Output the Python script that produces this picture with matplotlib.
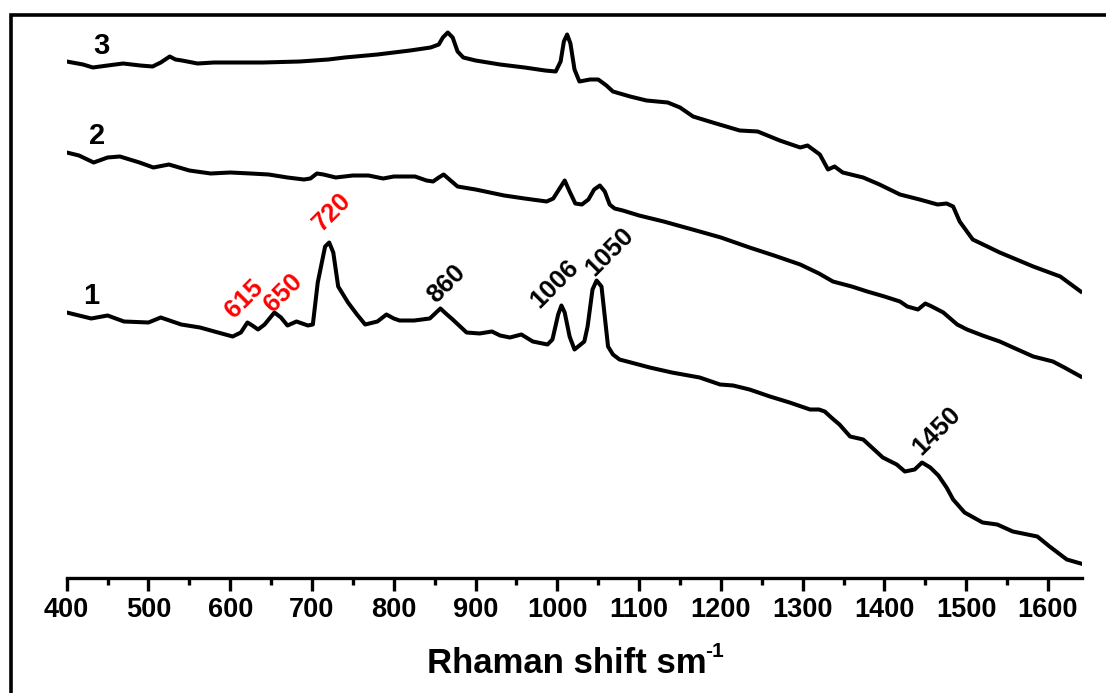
import matplotlib
matplotlib.use("Agg")
import matplotlib.pyplot as plt
from matplotlib.patches import Rectangle
from matplotlib.ticker import MultipleLocator

plt.rcParams['font.family'] = ['Liberation Sans', 'DejaVu Sans']
plt.rcParams['font.weight'] = 'bold'

# Raman shift (cm-1) and intensity (a.u.)
x1 = [400, 415, 430, 450, 470, 500, 515, 540, 563, 585, 603, 613, 621, 627, 634, 642, 654, 662, 670,
      681, 695, 701, 707, 716, 721, 726, 732, 738, 744, 755, 765, 780, 791, 800, 807, 825, 844, 857,
      865, 872, 889, 905, 920, 930, 942, 956, 970, 988, 994, 1001, 1005, 1009, 1015, 1021, 1027, 1033,
      1037, 1043, 1048, 1054, 1058, 1062, 1068, 1076, 1090, 1113, 1140, 1174, 1199, 1215, 1235, 1260,
      1284, 1309, 1320, 1327, 1335, 1345, 1358, 1374, 1398, 1415, 1425, 1437, 1446, 1456, 1466, 1476,
      1484, 1498, 1520, 1538, 1557, 1587, 1602, 1623, 1640]
y1 = [265, 262, 259, 262, 256, 255, 260, 253, 250, 245, 241, 245, 255, 252, 248, 253, 265, 260, 252,
      256, 252, 253, 295, 331, 335, 325, 291, 283, 275, 263, 253, 256, 263, 259, 257, 257, 259, 269,
      263, 258, 245, 244, 246, 242, 240, 243, 236, 233, 238, 263, 272, 265, 241, 228, 232, 236,
      251, 288, 297, 291, 261, 231, 223, 218, 215, 210, 205, 200, 193, 192, 188, 181,
      175, 168, 168, 166, 160, 153, 141, 138, 120, 113, 106, 108, 115, 110, 102, 90,
      78, 65, 55, 53, 46, 41, 31, 18, 14]

x2 = [400, 415, 433, 450, 465, 489, 506, 525, 550, 576, 600, 625, 647, 670, 690, 698, 706, 714, 729,
      750, 769, 787, 800, 826, 840, 848, 855, 861, 868, 878, 900, 935, 960, 987, 995, 1002, 1009, 1015,
      1022, 1030, 1038, 1045, 1052, 1058, 1064, 1070, 1080, 1100, 1130, 1174, 1200, 1235, 1265, 1297,
      1320, 1337, 1360, 1379, 1400, 1419, 1428, 1441, 1450, 1458, 1472, 1489, 1501, 1520, 1541, 1560,
      1582, 1606, 1620, 1640]
y2 = [425, 422, 415, 420, 421, 415, 410, 413, 407, 404, 405, 404, 403, 400, 398, 399, 404, 403, 400,
      402, 402, 399, 401, 401, 397, 396, 400, 403, 398, 391, 388, 382, 379, 376, 379, 388, 397, 386,
      374, 373, 378, 388, 392, 386, 373, 369, 367, 362, 356, 346, 340, 330, 322, 313,
      304, 296, 291, 286, 281, 276, 271, 268, 274, 271, 265, 253, 248, 242, 236, 229,
      221, 216, 210, 201]

x3 = [400, 420, 432, 450, 469, 490, 505, 515, 526, 533, 541, 560, 580, 603, 640, 685, 720, 740, 780,
      820, 845, 855, 860, 866, 872, 878, 885, 900, 930, 960, 985, 998, 1004, 1008, 1012, 1016, 1021,
      1027, 1040, 1050, 1060, 1068, 1089, 1109, 1135, 1150, 1166, 1190, 1223, 1245, 1272, 1297, 1306,
      1321, 1331, 1339, 1349, 1374, 1394, 1419, 1443, 1465, 1476, 1484, 1492, 1508, 1541, 1582, 1615,
      1640]
y3 = [516, 513, 510, 512, 514, 512, 511, 515, 521, 518, 517, 514, 515, 515, 515, 516, 518, 520, 523,
      527, 530, 533, 540, 545, 540, 526, 520, 517, 513, 510, 507, 506, 516, 536, 543, 534, 508,
      496, 498, 498, 492, 486, 481, 477, 475, 470, 461, 455, 447, 446, 437, 430, 432,
      423, 408, 411, 405, 400, 393, 383, 378, 373, 374, 371, 356, 338, 325, 311, 301,
      286]

curve_labels = ["1", "2", "3"]
curve_label_pos = [(430, 281), (437, 441), (443, 531)]

peak_labels = ["615", "650", "720", "860", "1006", "1050", "1450"]
peak_colors = ["red", "red", "red", "black", "black", "black", "black"]
peak_label_pos = [(617, 279), (665, 285), (725, 366), (864, 294), (997, 294), (1064, 326), (1464, 147)]

fig = plt.figure(figsize=(11.06, 6.93), dpi=100)
W, H = 1106, 693
ax = fig.add_axes([66.7 / W, (H - 577.5) / H, (1082 - 66.7) / W, 577.5 / H])

for xs, ys in [(x1, y1), (x2, y2), (x3, y3)]:
    ax.plot(xs, ys, color='black', lw=2.9, solid_joinstyle='round')

ax.set_xlim(400, 1641.6)
ax.set_ylim(0, 577.5)
for s in ['top', 'right', 'left']:
    ax.spines[s].set_visible(False)
ax.spines['bottom'].set_linewidth(2.4)
ax.set_yticks([])
ax.xaxis.set_major_locator(MultipleLocator(100))
ax.xaxis.set_minor_locator(MultipleLocator(50))
ax.tick_params(axis='x', which='major', length=9, width=2.4, direction='out', labelsize=19.5, pad=5)
ax.tick_params(axis='x', which='minor', length=5, width=2.4, direction='out')
for lab in ax.get_xticklabels():
    lab.set_fontweight('bold')

fig.text(427 / W, 1 - 673 / H, "Rhaman shift sm", fontsize=25, fontweight='bold',
         ha='left', va='baseline')
fig.text(705 / W, 1 - 657 / H, "-1", fontsize=15, fontweight='bold', ha='left', va='baseline')

for t, (xv, yv) in zip(curve_labels, curve_label_pos):
    ax.text(xv, yv, t, fontsize=21, fontweight='bold', ha='center', va='center')
for t, c, (xv, yv) in zip(peak_labels, peak_colors, peak_label_pos):
    ax.text(xv, yv, t, fontsize=18.5, fontweight='bold', color=c, ha='center', va='center',
            rotation=45, rotation_mode='anchor')

fig.add_artist(Rectangle((10.5 / W, -0.1), 1.2, (H - 14.5) / H + 0.1, transform=fig.transFigure,
                         fill=False, edgecolor='black', lw=2.6, clip_on=False))

fig.savefig("out.png", dpi=100, facecolor='white')
